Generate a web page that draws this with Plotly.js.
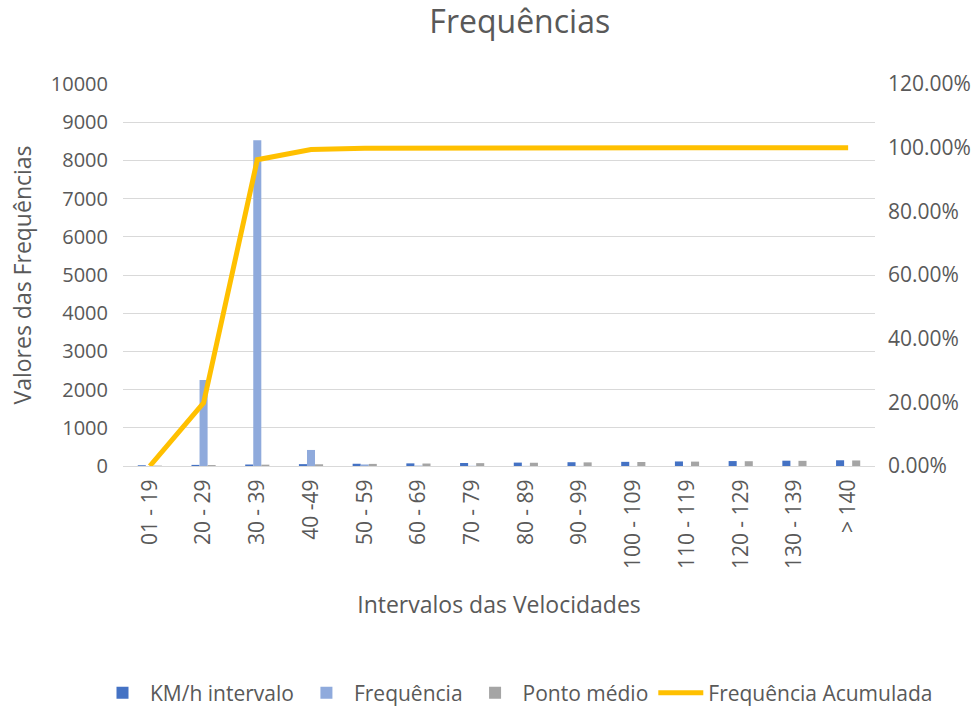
<!DOCTYPE html>
<html>
<head>
<meta charset="utf-8">
<script src="https://cdn.plot.ly/plotly-3.0.1.min.js"></script>
<style>body{margin:0;background:#fff;} #chart{width:977px;height:711px;}</style>
</head>
<body>
<div id="chart"></div>
<script>
const categories = ["01 - 19","20 - 29","30 - 39","40 -49","50 - 59","60 - 69","70 - 79","80 - 89","90 - 99","100 - 109","110 - 119","120 - 129","130 - 139","> 140"];
const kmhIntervalo = [19, 29, 39, 49, 59, 69, 79, 89, 99, 109, 119, 129, 139, 150];
const frequencia = [0, 2250, 8530, 420, 40, 10, 5, 3, 2, 1, 1, 0, 0, 0];
const pontoMedio = [10, 25, 35, 45, 55, 65, 75, 85, 95, 105, 115, 125, 135, 145];
const freqAcumulada = [0, 0.198, 0.962, 0.994, 0.998, 0.999, 0.9995, 0.9998, 0.9999, 1, 1, 1, 1, 1];

const font = "Open Sans, sans-serif";
const grey = "#595959";

const traces = [
  {type:"bar", name:"KM/h intervalo", x:categories, y:kmhIntervalo, marker:{color:"#4472C4"}, yaxis:"y"},
  {type:"bar", name:"Frequência", x:categories, y:frequencia, marker:{color:"#8FAADC"}, yaxis:"y"},
  {type:"bar", name:"Ponto médio", x:categories, y:pontoMedio, marker:{color:"#A5A5A5"}, yaxis:"y"},
  {type:"scatter", mode:"lines", name:"Frequência Acumulada", x:categories, y:freqAcumulada, yaxis:"y2",
   line:{color:"#FFC000", width:5}}
];

const plotL = 123, plotW = 752, plotT = 84, plotH = 382;

const layout = {
  width:977, height:711,
  paper_bgcolor:"#fff", plot_bgcolor:"#fff",
  margin:{l:123, r:102, t:84, b:245, autoexpand:false},
  font:{family:font, color:grey, size:20},
  title:{text:"Frequências", x:0.532, xanchor:"center", xref:"container", yref:"container", y:1-22/711, yanchor:"middle", font:{size:32, color:grey, family:font}},
  barmode:"group", bargap:0.55, bargroupgap:0,
  showlegend:true,
  legend:{orientation:"h", xref:"paper", yref:"paper", x:(95-plotL)/plotW, xanchor:"left", y:(plotT+plotH-693)/plotH, yanchor:"middle",
          font:{size:21, color:grey}, traceorder:"normal", itemwidth:45},
  xaxis:{
    type:"category", tickangle:-90, showgrid:false, showline:true, linecolor:"#d9d9d9", linewidth:1,
    ticks:"", tickfont:{size:21, color:grey}, ticklabelstandoff:4, automargin:false,
    title:{text:"Intervalos das Velocidades", font:{size:23, color:grey}, standoff:28}
  },
  yaxis:{
    range:[0,10000], dtick:1000, tickformat:"d", showgrid:true, gridcolor:"#d9d9d9", gridwidth:1, zeroline:false,
    showline:false, ticks:"", tickfont:{size:20, color:grey}, ticklabelstandoff:14, automargin:false,
    title:{text:"Valores das Frequências", font:{size:23, color:grey}, standoff:12}
  },
  yaxis2:{
    overlaying:"y", side:"right", range:[0,1.2], dtick:0.2, tickformat:".2%", automargin:false,
    showgrid:false, zeroline:false, showline:false, ticks:"", tickfont:{size:21, color:grey}, ticklabelstandoff:12
  }
};

Plotly.newPlot("chart", traces, layout, {displayModeBar:false, staticPlot:true});
</script>
</body>
</html>
